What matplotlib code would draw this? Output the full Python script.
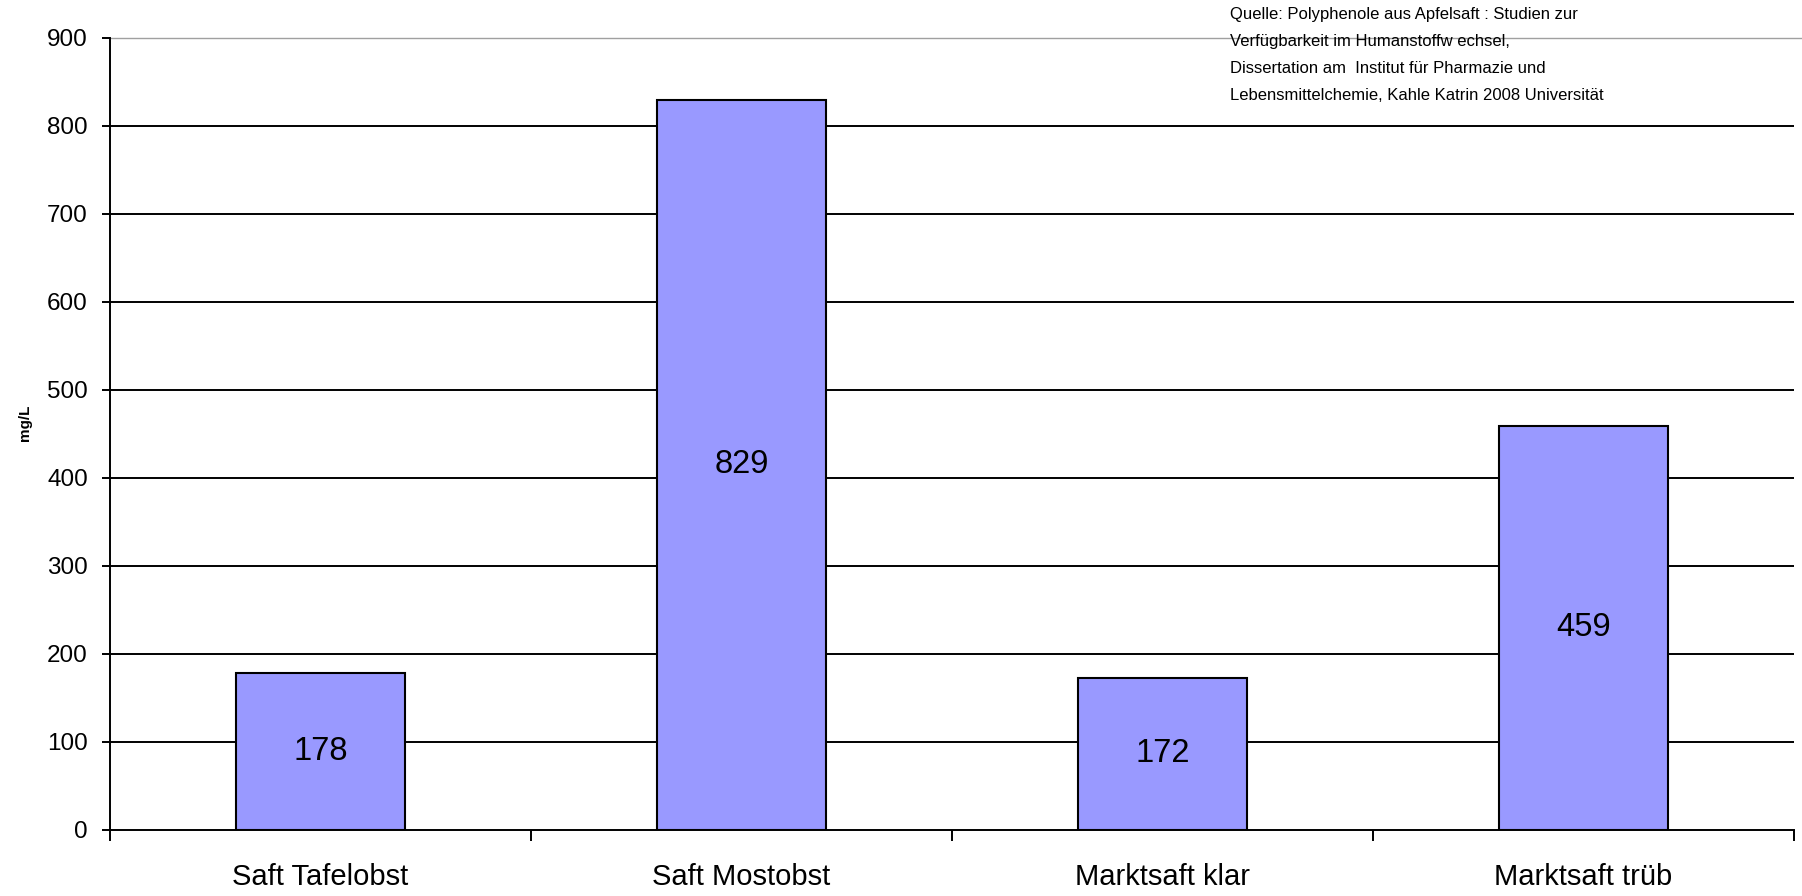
import matplotlib
matplotlib.use("Agg")
import matplotlib.pyplot as plt
import numpy as np

plt.rcParams['font.family'] = ['Liberation Sans', 'DejaVu Sans']

categories = ["Saft Tafelobst", "Saft Mostobst", "Marktsaft klar", "Marktsaft trüb"]
values = [178, 829, 172, 459]
value_labels = ["178", "829", "172", "459"]
y_ticks = [0, 100, 200, 300, 400, 500, 600, 700, 800, 900]
source_lines = [
    "Quelle: Polyphenole aus Apfelsaft : Studien zur",
    "Verfügbarkeit im Humanstoffw echsel,",
    "Dissertation am  Institut für Pharmazie und",
    "Lebensmittelchemie, Kahle Katrin 2008 Universität",
]
y_label = "mg/L"

W, H = 1802, 896
fig = plt.figure(figsize=(W / 100, H / 100), dpi=100)
ax_left, ax_right, ax_top, ax_bottom = 110, 1794, 37.7, 829.5
ax = fig.add_axes([ax_left / W, 1 - ax_bottom / H, (ax_right - ax_left) / W, (ax_bottom - ax_top) / H])

x = np.arange(len(categories))
bar_color = "#9999FF"
bars = ax.bar(x, values, width=0.40, color=bar_color, edgecolor="black", linewidth=1.5, zorder=3)

for xi, v, lab in zip(x, values, value_labels):
    ax.text(xi, v / 2, lab, ha="center", va="center", fontsize=23.5, color="black", zorder=4)

ax.set_xlim(-0.5, len(categories) - 0.5)
ax.set_ylim(0, 900)

# gridlines
for yt in y_ticks[1:-1]:
    ax.axhline(yt, color="black", linewidth=1.4, zorder=1)
# top plot-area border (gray), extends to figure edge
ax.axhline(900, xmin=0, xmax=(W - ax_left) / (ax_right - ax_left), color="#A0A0A0",
           linewidth=1.0, zorder=1, clip_on=False)

for s in ["top", "right"]:
    ax.spines[s].set_visible(False)
for s in ["left", "bottom"]:
    ax.spines[s].set_linewidth(1.4)
    ax.spines[s].set_color("black")

ax.set_yticks(y_ticks)
ax.set_yticklabels([str(t) for t in y_ticks], fontsize=17.5)
ax.tick_params(axis="y", direction="out", length=6, width=1.4, pad=10)

ax.set_xticks(np.arange(len(categories) + 1) - 0.5, minor=False)
ax.set_xticklabels([])
ax.tick_params(axis="x", which="major", direction="out", length=8, width=1.4)
ax.set_xticks(x, minor=True)
ax.set_xticklabels(categories, minor=True, fontsize=21)
ax.tick_params(axis="x", which="minor", length=0, pad=24)

fig.text(25 / W, 1 - 423 / H, y_label, rotation=90, fontsize=11, fontweight="bold",
         ha="center", va="center")

x0 = 1230 / W
baselines = [19.3, 46.1, 72.9, 99.7]
for line, b in zip(source_lines, baselines):
    fig.text(x0, 1 - b / H, line, fontsize=12, ha="left", va="baseline", color="black")

fig.savefig("out.png", dpi=100, facecolor="white")
